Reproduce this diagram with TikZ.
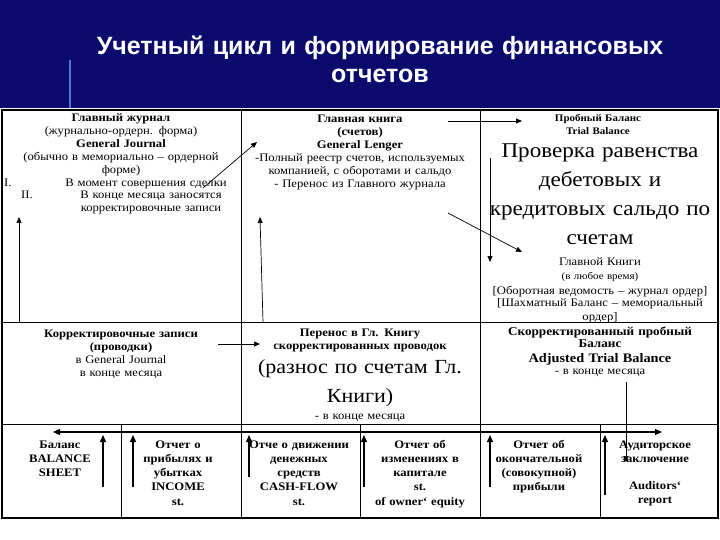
\documentclass[tikz,border=0pt]{standalone}
\usepackage{fontspec}
\setmainfont{Liberation Serif}[FakeStretch=1.1]
\newfontfamily\titlefont{Liberation Sans}
\usetikzlibrary{arrows.meta, positioning}
\definecolor{headblue}{HTML}{0B0B6D}
\definecolor{stripe}{HTML}{4A78D6}

\begin{document}
\begin{tikzpicture}[
        x=1pt, y=-1pt,
        title/.style={
            inner sep=0pt, anchor=base, align=center, text width=600pt,
            text=white, font=\titlefont\bfseries\fontsize{25}{28}\selectfont
        },
        body/.style={
            inner sep=0pt, anchor=base, align=center, text width=232pt,
            font=\fontsize{11.5}{13}\selectfont
        },
        bodyb/.style={body, font=\fontsize{11.5}{13}\selectfont\bfseries},
        large/.style={body, font=\fontsize{21}{29}\selectfont},
        foot/.style={
            body, text width=116pt,
            font=\fontsize{11.5}{14.3}\selectfont\bfseries
        },
        num/.style={inner sep=0pt, anchor=base west, font=\fontsize{11.5}{13}\selectfont},
        frame/.style={draw=black, line width=1.5pt},
        grid/.style={draw=black, line width=0.8pt},
        arrow/.style={-{Triangle[length=6pt, width=5pt]}, line width=0.7pt},
        twoway/.style={{Triangle[length=7pt, width=6pt]}-{Triangle[length=7pt, width=6pt]}, color=black, line width=1.2pt},
        uparrow/.style={-{Triangle[length=7pt, width=6pt]}, line width=1.3pt}
    ]
    \useasboundingbox (0,0) rectangle (720,540);

    % Header
    \fill[white] (0,0) rectangle (720,540);
    \fill[headblue] (0,0) rectangle (720,108);
    \draw[stripe, line width=1.5pt] (70,60) -- (70,108);
    \node[title] (ttl) at (380,55) {Учетный цикл и формирование финансовых\\[0pt]отчетов};

    % Table
    \draw[frame] (2,110) rectangle (718,518);
    \draw[grid] (2,322) -- (718,322) (2,424) -- (718,424);
    \draw[grid] (241,110) -- (241,518) (480,110) -- (480,518);
    \draw[grid] (121,424) -- (121,518) (360,424) -- (360,518) (600,424) -- (600,518);

    % General Journal
    \node[body] (jnl) at (121,122) {\textbf{Главный журнал}\\(журнально-ордерн. форма)\\\textbf{General Journal}\\(обычно в мемориально – ордерной\\форме)};
    \node[num] (n1) at (4,187) {I.};
    \node[num] (n2) at (21,199) {II.};
    \node[body, text width=170pt] (jnl1) at (146,187) {В момент совершения сделки};
    \node[body, text width=150pt] (jnl2) at (151,199) {В конце месяца заносятся\\корректировочные записи};

    % General Ledger
    \node[body] (ldg) at (360,123) {\textbf{Главная книга}\\\textbf{(счетов)}\\\textbf{General Lenger}\\-Полный реестр счетов, используемых\\компанией, с оборотами и сальдо\\- Перенос из Главного журнала};

    % Trial Balance
    \node[bodyb, font=\fontsize{10}{13}\selectfont\bfseries] (trl) at (598,122) {Пробный Баланс\\Trial Balance};
    \node[large] (trlchk) at (600,158) {Проверка равенства\\дебетовых и\\кредитовых сальдо по\\счетам};
    \node[body] (trlgl) at (600,265) {Главной Книги};
    \node[body, font=\fontsize{10}{13}\selectfont] (trlany) at (600,279) {(в любое время)};
    \node[body] (trlfrm) at (600,294) {{[}Оборотная ведомость – журнал ордер{]}\\{[}Шахматный Баланс – мемориальный\\ордер{]}};

    % Adjusting entries
    \node[body] (adj) at (121,337) {\textbf{Корректировочные записи}\\\textbf{(проводки)}\\в General Journal\\в конце месяца};
    \node[bodyb] (post) at (360,336) {Перенос в Гл. Книгу\\скорректированных проводок};
    \node[large, font=\fontsize{20}{29}\selectfont] (postbig) at (360,373) {(разнос по счетам Гл.\\Книги)};
    \node[body] (postend) at (360,419) {- в конце месяца};
    \node[bodyb, font=\fontsize{12}{12.5}\selectfont\bfseries] (adjtb) at (600,335) {Скорректированный пробный\\Баланс};
    \node[bodyb, font=\fontsize{13}{14}\selectfont\bfseries] (adjtbeng) at (600,362) {Adjusted Trial Balance};
    \node[body] (adjtbend) at (600,374) {- в конце месяца};

    % Financial statements
    \node[foot] (bs) at (60,448) {Баланс\\BALANCE\\SHEET};
    \node[foot] (is) at (178,448) {Отчет о\\прибылях и\\убытках\\INCOME\\st.};
    \node[foot] (cf) at (299,448) {Отче о движении\\денежных\\средств\\CASH-FLOW\\st.};
    \node[foot] (eq) at (420,448) {Отчет об\\изменениях в\\капитале\\st.\\of owner` equity};
    \node[foot] (ci) at (539,448) {Отчет об\\окончательной\\(совокупной)\\прибыли};
    \node[foot] (aud) at (655,448) {Аудиторское\\заключение\\[13pt]Auditors`\\report};

    % Arrows, top rows
    \coordinate (jnlup-s) at (19,322);   \coordinate (jnlup-e) at (19,217);
    \coordinate (jnlldg-s) at (203,188); \coordinate (jnlldg-e) at (257,142);
    \coordinate (ldgup-s) at (263,322);  \coordinate (ldgup-e) at (260,217);
    \coordinate (ldgtrl-s) at (448,121); \coordinate (ldgtrl-e) at (522,121);
    \coordinate (ldgchk-s) at (448,213); \coordinate (ldgchk-e) at (522,252);
    \coordinate (trldn-s) at (490,158);  \coordinate (trldn-e) at (490,262);
    \coordinate (adjpost-s) at (218,344); \coordinate (adjpost-e) at (260,344);
    \coordinate (adjdn-s) at (626,382);  \coordinate (adjdn-e) at (626,462);
    \coordinate (finw) at (53,432);      \coordinate (fine) at (662,432);

    \draw[arrow] (jnlup-s) -- (jnlup-e);
    \draw[arrow] (jnlldg-s) -- (jnlldg-e);
    \draw[arrow] (ldgup-s) -- (ldgup-e);
    \draw[arrow] (ldgtrl-s) -- (ldgtrl-e);
    \draw[arrow] (ldgchk-s) -- (ldgchk-e);
    \draw[arrow] (trldn-s) -- (trldn-e);
    \draw[arrow] (adjpost-s) -- (adjpost-e);
    \draw[arrow] (adjdn-s) -- (adjdn-e);
    \draw[twoway] (finw) -- (fine);

    % Arrows, statements
    \foreach \n/\x/\ya in {1/103/487, 2/133/487, 3/249/477, 4/364/487, 5/490/487, 6/605/495}{
        \coordinate (up\n-s) at (\x,\ya);
        \coordinate (up\n-e) at (\x,435);
        \draw[uparrow] (up\n-s) -- (up\n-e);
    }
\end{tikzpicture}
\end{document}
